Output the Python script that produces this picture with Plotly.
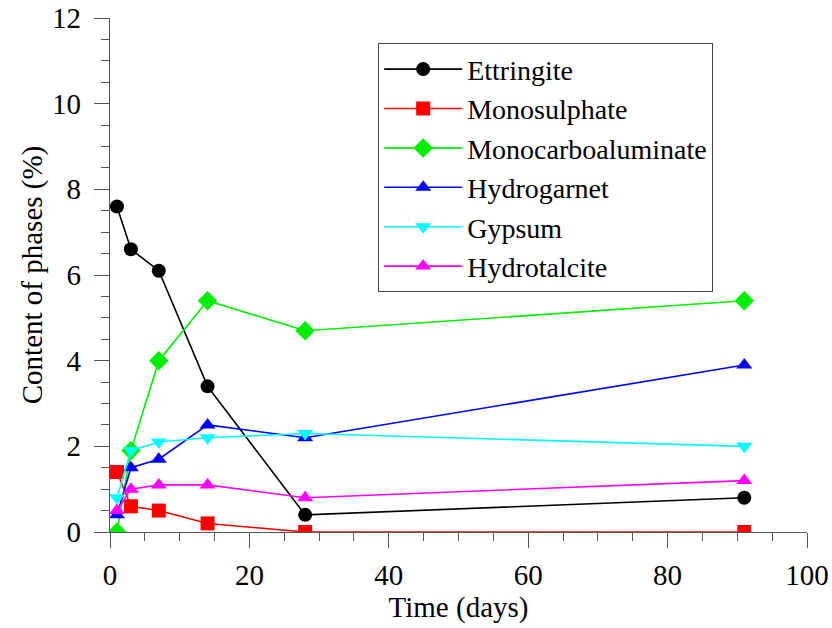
import plotly.graph_objects as go

days = [1, 3, 7, 14, 28, 91]
ettringite = [7.6, 6.6, 6.1, 3.4, 0.4, 0.8]
monosulphate = [1.4, 0.6, 0.5, 0.2, 0.0, 0.0]
monocarbo = [0.0, 1.9, 4.0, 5.4, 4.7, 5.4]
hydrogarnet = [0.4, 1.5, 1.7, 2.5, 2.2, 3.9]
gypsum = [0.8, 1.9, 2.1, 2.2, 2.3, 2.0]
hydrotalcite = [0.5, 1.0, 1.1, 1.1, 0.8, 1.2]

series = [
    ("Ettringite", ettringite, "#000000", "circle"),
    ("Monosulphate", monosulphate, "#ff0000", "square"),
    ("Monocarboaluminate", monocarbo, "#00ee00", "diamond"),
    ("Hydrogarnet", hydrogarnet, "#0000ff", "triangle-up"),
    ("Gypsum", gypsum, "#00ffff", "triangle-down"),
    ("Hydrotalcite", hydrotalcite, "#ff00ff", "triangle-up"),
]

FONT = "Liberation Serif, Times New Roman, serif"

fig = go.Figure()
for name, vals, col, sym in series:
    fig.add_trace(go.Scatter(
        x=days, y=vals, name=name, mode="lines+markers",
        line=dict(color=col, width=1.6),
        marker=dict(symbol=sym, size=14 if sym != "diamond" else 15, color=col,
                    line=dict(width=0)),
        cliponaxis=True,
    ))

axis_common = dict(
    showline=True, linecolor="#555555", linewidth=1.2,
    showgrid=False, zeroline=False, ticks="outside",
    tickcolor="#555555", tickwidth=1.2, ticklen=15,
    tickfont=dict(family=FONT, size=29, color="#000000"),
    mirror=False, automargin=False, ticklabeloverflow="allow",
)

fig.update_xaxes(
    range=[0, 100], tick0=0, dtick=20, ticklabelstandoff=2,
    minor=dict(dtick=5, ticks="outside", ticklen=8, tickcolor="#555555", tickwidth=1.2),
    title=dict(text="Time (days)", font=dict(family=FONT, size=29, color="#000000"), standoff=0),
    **axis_common,
)
fig.update_yaxes(
    range=[0, 12], tick0=0, dtick=2, ticklabelstandoff=7,
    minor=dict(dtick=0.5, ticks="outside", ticklen=8, tickcolor="#555555", tickwidth=1.2),
    title=dict(text="Content of phases (%)", font=dict(family=FONT, size=29, color="#000000"), standoff=0),
    **axis_common,
)

fig.update_layout(
    width=832, height=628,
    margin=dict(l=110, r=25, t=18, b=96),
    paper_bgcolor="white", plot_bgcolor="white",
    font=dict(family=FONT, size=29, color="#000000"),
    showlegend=True,
    legend=dict(
        x=0.3845, y=0.951, xanchor="left", yanchor="top",
        bgcolor="white", bordercolor="#444444", borderwidth=1.2,
        font=dict(family=FONT, size=28, color="#000000"),
        itemsizing="trace", itemwidth=78, tracegroupgap=0,
    ),
)

fig.write_html("out.html", config={"displayModeBar": False},
               post_script="document.body.style.margin='0px';")
